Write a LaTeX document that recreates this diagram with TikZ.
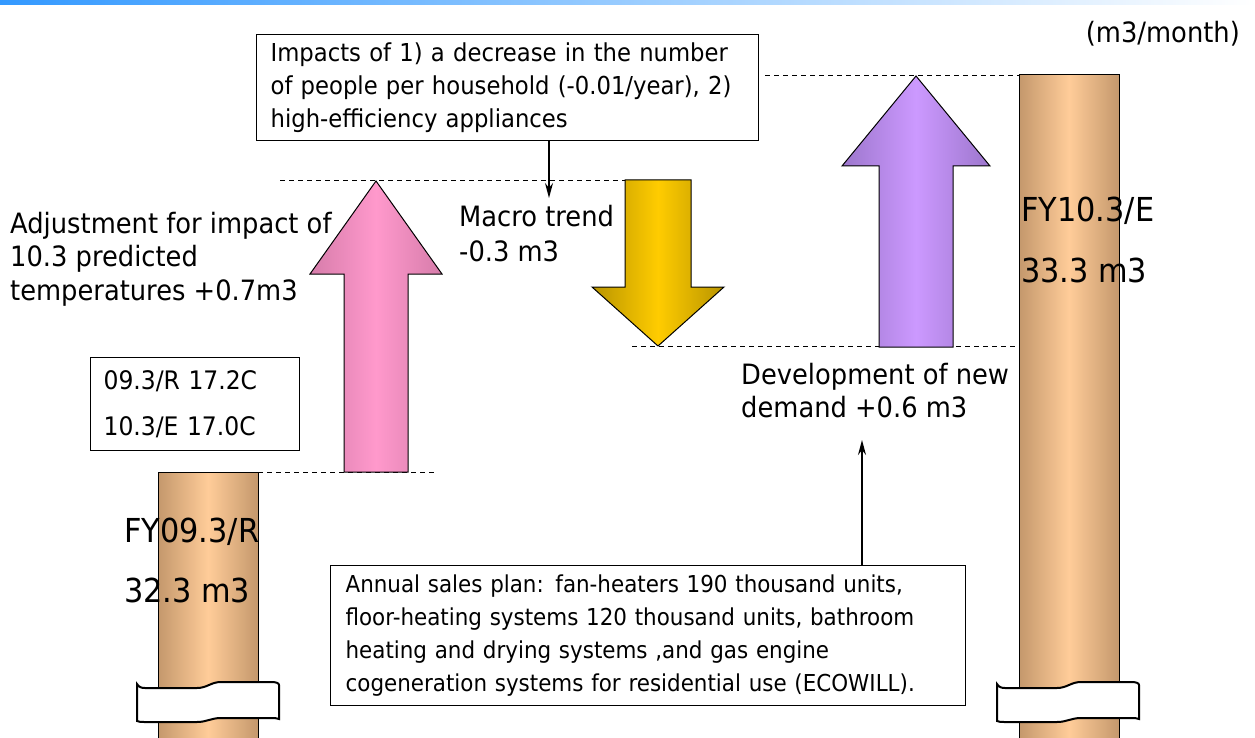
\documentclass[tikz,border=0pt]{standalone}
\usepackage{fontspec}
\setmainfont{DejaVu Sans}[FakeStretch=0.92]
\usetikzlibrary{arrows.meta}

\definecolor{barblue}{RGB}{51,153,255}
\definecolor{pillarmid}{RGB}{255,204,153}
\definecolor{pillaredge}{RGB}{196,152,108}
\definecolor{pinkmid}{RGB}{255,153,204}
\definecolor{pinkedge}{RGB}{214,124,170}
\definecolor{goldmid}{RGB}{255,204,0}
\definecolor{goldedge}{RGB}{184,148,0}
\definecolor{lilacmid}{RGB}{204,153,255}
\definecolor{lilacedge}{RGB}{156,118,204}

\newcommand\fsz[2]{\fontsize{#1}{#2}\selectfont}

\tikzset{
  pillar/.style={draw=black, line width=1pt,
    left color=pillaredge, right color=pillaredge, middle color=pillarmid},
  blockarrow/.style={draw=black, line width=1pt},
  pinkarrow/.style={blockarrow, left color=pinkedge, right color=pinkedge, middle color=pinkmid},
  goldarrow/.style={blockarrow, left color=goldedge, right color=goldedge, middle color=goldmid},
  lilacarrow/.style={blockarrow, left color=lilacedge, right color=lilacedge, middle color=lilacmid},
  guide/.style={line width=0.9pt, dash pattern=on 5pt off 4pt},
  infobox/.style={draw, line width=1.2pt, inner ysep=0pt, align=left, anchor=north west},
  lbl/.style={inner sep=0pt, align=left},
  link/.style={line width=1.3pt, -{Stealth[length=15pt,width=8pt]}},
  cutband/.pic={
    \draw[line width=2pt, fill=white]
      (0,3) .. controls (2,6) and (4,7) .. (8,7) -- (60,7)
      .. controls (70,7) and (74,1) .. (84,1) -- (134,1)
      .. controls (139,1) and (142,2) .. (142,4) -- (142,38)
      .. controls (140,37) and (137,37) .. (134,37) -- (84,37)
      .. controls (74,37) and (70,41) .. (60,41) -- (8,41)
      .. controls (4,41) and (2,41) .. (0,40) -- cycle;
  }
}

\begin{document}
\begin{tikzpicture}[x=1pt,y=-1pt]
\useasboundingbox (0,0) rectangle (1255,738);

% --- title band ---
\shade[left color=barblue, right color=white] (0,0) rectangle (1255,5);

% --- level guides ---
\draw[guide] (765,75) -- (1019,75);
\draw[guide] (280,180) -- (625,180);
\draw[guide] (632,346) -- (1019,346);
\draw[guide] (258,472) -- (435,472);

% --- the two pillars ---
\path[pillar] (158,738) -- (158,472) -- (258,472) -- (258,738);
\path[pillar] (1019,738) -- (1019,75) -- (1119,75) -- (1119,738);

% --- block arrows ---
\path[pinkarrow] (344,472) -- (344,274) -- (310,274) -- (376,181)
  -- (442,274) -- (408,274) -- (408,472) -- cycle;
\path[goldarrow] (625,180) -- (691,180) -- (691,287) -- (724,287)
  -- (658,346) -- (592,287) -- (625,287) -- cycle;
\path[lilacarrow] (879,347) -- (879,166) -- (842,166) -- (916,76)
  -- (990,166) -- (953,166) -- (953,347) -- cycle;

% --- cut marks ---
\pic at (137,681) {cutband};
\pic at (997,681) {cutband};

% --- boxes ---
\node[infobox, minimum width=502pt, minimum height=106pt, text width=474pt,
  inner xsep=14pt, font=\fsz{24.7}{33}] (impacts) at (256,34)
  {Impacts of 1) a decrease in the number\\
   of people per household (-0.01/year), 2)\\
   high-efficiency appliances};
\node[infobox, minimum height=93pt, text width=183pt, inner xsep=13pt,
  font=\fsz{25.5}{46}] (temps) at (90,357)
  {09.3/R 17.2C\\10.3/E 17.0C};
\node[infobox, minimum height=140pt, text width=605pt, inner xsep=15pt,
  font=\fsz{23.3}{33}] (sales) at (330,565)
  {Annual sales plan: fan-heaters 190 thousand units,\\
   floor-heating systems 120 thousand units, bathroom\\
   heating and drying systems ,and gas engine\\
   cogeneration systems for residential use (ECOWILL).};

% --- labels ---
\node[lbl, anchor=base east, font=\fsz{28}{34}] (unit) at (1240,43) {(m3/month)};
\node[lbl, anchor=west, font=\fsz{28}{33.5}] (adjust) at (10,259)
  {Adjustment for impact of\\10.3 predicted\\temperatures +0.7m3};
\node[lbl, anchor=west, font=\fsz{28}{35}] (macro) at (459,234)
  {Macro trend\\-0.3 m3};
\node[lbl, anchor=west, font=\fsz{28}{33}] (newdemand) at (741,391)
  {Development of new\\demand +0.6 m3};
\node[lbl, anchor=base west, font=\fsz{33}{40}] (fyold) at (124,542) {FY09.3/R};
\node[lbl, anchor=base west, font=\fsz{33}{40}] (volold) at (124,602) {32.3 m3};
\node[lbl, anchor=base west, font=\fsz{33}{40}] (fynew) at (1021,222) {FY10.3/E};
\node[lbl, anchor=base west, font=\fsz{33}{40}] (volnew) at (1021,282) {33.3 m3};

% --- pointers ---
\coordinate (macrotip) at (549,198);
\draw[link] (impacts.south -| macrotip) -- (macrotip);
\coordinate (demandtip) at (862,440);
\draw[link] (sales.north -| demandtip) -- (demandtip);
\end{tikzpicture}
\end{document}
